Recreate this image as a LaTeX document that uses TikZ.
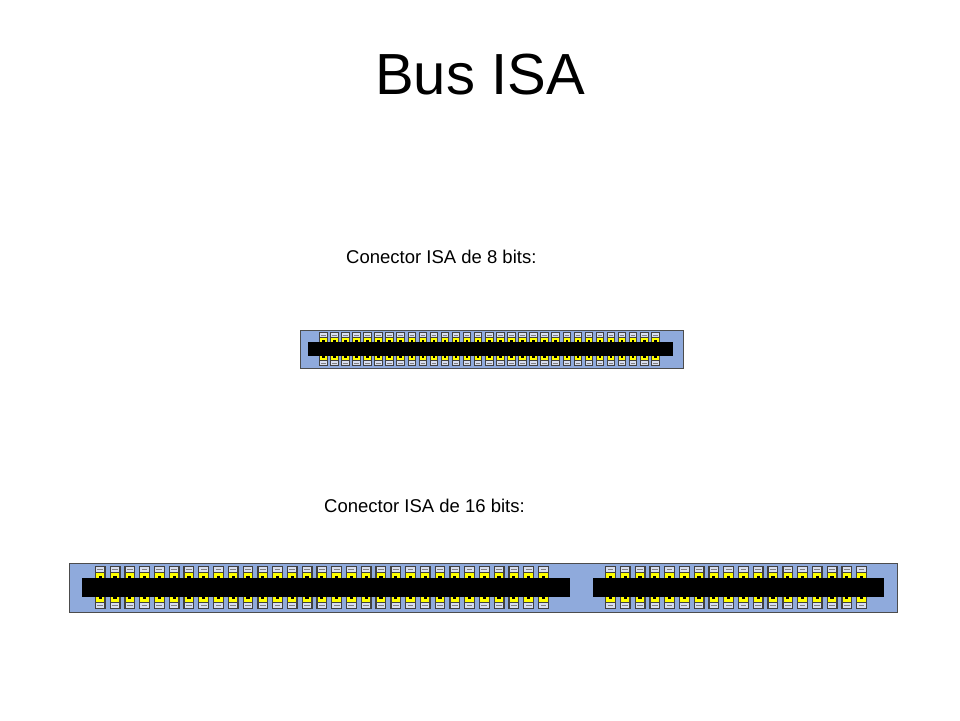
\documentclass[tikz,border=0pt]{standalone}
\usepackage{fontspec}
\setmainfont{Liberation Sans}
\definecolor{slotblue}{HTML}{8FAADC}
\definecolor{padc}{HTML}{D8DEF0}
\definecolor{pinyel}{HTML}{FFFF00}
\newcommand{\pinrow}[3]{% start, count, pitch
  \foreach \i in {1,...,#2}{
    \pgfmathsetmacro{\px}{#1+(\i-1)*#3}
    \foreach \s/\o in {1/0,-1/38}{
      \begin{scope}[shift={(0,\o)},yscale=\s]
        \fill[black!75] (\px,2) rectangle (\px+8.5,12);
        \fill[padc] (\px+1,3) rectangle (\px+7.5,7);
        \draw[gray,line width=0.6pt] (\px+2,5) -- (\px+6.5,5);
        \fill[pinyel] (\px+1,7.8) rectangle (\px+7.5,12);
        \fill[black] (\px+3,10) rectangle (\px+5.5,12);
      \end{scope}}}}
\begin{document}
\begin{tikzpicture}[x=1pt,y=-1pt,
  body/.style={fill=slotblue,draw=black!70,line width=1pt},
  lbl/.style={font=\fontsize{18.5}{20}\selectfont,inner sep=0pt}]
\useasboundingbox (0,0) rectangle (960,720);
\node[font=\fontsize{58}{62}\selectfont,inner sep=0pt] (title) at (480,75) {Bus ISA};
\node[lbl,anchor=west] (l8) at (346,257) {Conector ISA de 8 bits:};
\node[lbl,anchor=west] (l16) at (324,506) {Conector ISA de 16 bits:};
\begin{scope}[shift={(300,330)}]
  \draw[body] (0,0) rectangle (383,38);
  \fill[black] (8,12) rectangle (373,26);
  \pinrow{19}{31}{11.07}
\end{scope}
\begin{scope}[shift={(69,563)},scale=1.29]
  \draw[body] (0,0) rectangle (642.6,38);
  \fill[black] (10,12) rectangle (388,26);
  \fill[black] (406,12) rectangle (632,26);
  \pinrow{20}{31}{11.45}
  \pinrow{415.5}{18}{11.45}
\end{scope}
\end{tikzpicture}
\end{document}
